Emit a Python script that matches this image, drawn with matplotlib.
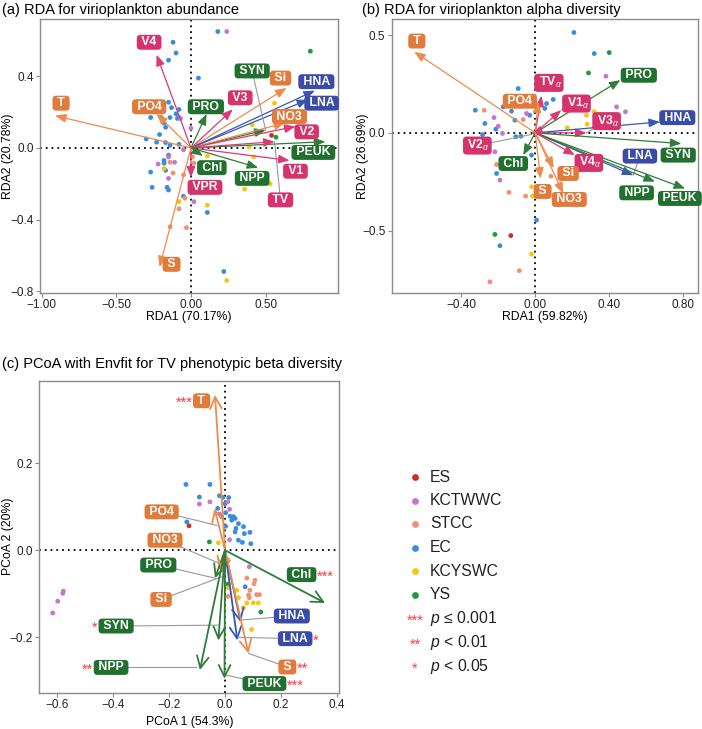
import matplotlib.pyplot as plt
from matplotlib.ticker import FuncFormatter

plt.rcParams['font.family'] = ['Liberation Sans', 'DejaVu Sans']
plt.rcParams['mathtext.fontset'] = 'custom'
plt.rcParams['mathtext.rm'] = 'Liberation Sans'
plt.rcParams['mathtext.it'] = 'Liberation Sans:italic'
plt.rcParams['mathtext.bf'] = 'Liberation Sans:bold'

# ---- regions (sample groups) ----
regions = ['ES', 'KCTWWC', 'STCC', 'EC', 'KCYSWC', 'YS']
region_colors = ['#C9302C', '#C477CC', '#F39074', '#3A8DDE', '#F2C811', '#1F9A3C']

# ---- (a) RDA for virioplankton abundance ----
a_vars = ['T', 'PO4', 'V4', 'PRO', 'V3', 'Si', 'HNA', 'LNA', 'SYN', 'NO3', 'V2', 'PEUK',
          'TV', 'V1', 'NPP', 'Chl', 'VPR', 'S']
a_type = ['env', 'env', 'vir', 'phy', 'vir', 'env', 'bac', 'bac', 'phy', 'env', 'vir', 'phy',
          'vir', 'vir', 'phy', 'phy', 'vir', 'env']
a_x = [-0.91, -0.23, -0.23, 0.105, 0.28, 0.64, 0.83, 0.785, 0.50, 0.63, 0.70, 0.90,
       0.56, 0.66, 0.45, 0.08, 0.0, -0.21]
a_y = [0.18, 0.19, 0.52, 0.19, 0.215, 0.335, 0.32, 0.27, 0.10, 0.14, 0.12, 0.035,
       0.035, -0.07, -0.11, -0.045, -0.165, -0.665]
a_lab_x = [-0.87, -0.28, -0.28, 0.10, 0.33, 0.60, 0.84, 0.875, 0.41, 0.66, 0.775, 0.82,
           0.60, 0.70, 0.41, 0.14, 0.094, -0.13]
a_lab_y = [0.25, 0.23, 0.59, 0.23, 0.28, 0.39, 0.37, 0.25, 0.43, 0.175, 0.09, -0.025,
           -0.29, -0.13, -0.17, -0.11, -0.22, -0.65]
a_leader = ['SYN', 'TV']

a_pt_x = [0.18, -0.12, -0.10, -0.15, 0.05, -0.15, -0.13, -0.08, -0.10, -0.27, -0.20, -0.14, -0.09,
          -0.18, -0.17, -0.21, -0.30, -0.23, -0.17, -0.14, -0.08, -0.15, -0.18, -0.18, -0.27,
          -0.17, -0.26, -0.16, -0.15, -0.05, 0.11, 0.22, -0.08,
          0.24, 0.0, -0.05, -0.15, -0.22, -0.11, -0.15, 0.02, -0.07,
          0.02, -0.05, -0.12, -0.04, -0.08, -0.14, -0.03, 0.01, -0.14,
          0.56, 0.41, 0.39, 0.42, 0.11, 0.53, 0.36, 0.11, -0.08, 0.24, -0.18,
          0.54, 0.80, 0.57]
a_pt_y = [0.65, 0.59, 0.53, 0.49, 0.39, 0.255, 0.225, 0.215, 0.19, 0.17, 0.17, 0.17, 0.165,
          0.14, 0.115, 0.075, 0.05, 0.032, 0.03, 0.015, 0.02, -0.04, -0.07, -0.085, -0.135,
          -0.125, -0.22, -0.22, -0.235, -0.27, -0.36, -0.69, 0.17,
          0.65, 0.11, -0.01, -0.05, -0.09, -0.08, -0.17, -0.30, 0.165,
          -0.085, -0.15, -0.14, -0.28, -0.34, -0.44, -0.445, -0.05, -0.08,
          0.25, 0.13, 0.005, -0.05, -0.045, -0.20, -0.23, -0.32, -0.30, -0.74, -0.115,
          0.07, 0.54, 0.06]
a_pt_reg = ['EC'] * 33 + ['KCTWWC'] * 9 + ['STCC'] * 9 + ['KCYSWC'] * 11 + ['ES'] + ['YS'] * 2

# ---- (b) RDA for virioplankton alpha diversity ----
b_vars = ['T', 'PRO', r'TV$_{\alpha}$', 'PO4', r'V1$_{\alpha}$', r'V3$_{\alpha}$', 'HNA', 'SYN',
          'LNA', 'NPP', 'PEUK', r'V4$_{\alpha}$', r'V2$_{\alpha}$', 'Chl', 'S', 'Si', 'NO3']
b_type = ['env', 'phy', 'vir', 'env', 'vir', 'vir', 'bac', 'phy', 'bac', 'phy', 'phy', 'vir',
          'vir', 'phy', 'env', 'env', 'env']
b_x = [-0.654, 0.46, 0.034, 0.015, 0.14, 0.277, 0.674, 0.79, 0.53, 0.647, 0.81, 0.214,
       -0.02, -0.065, 0.029, 0.10, 0.151]
b_y = [0.415, 0.27, 0.19, 0.16, 0.116, 0.0, 0.056, -0.055, -0.217, -0.25, -0.285, -0.114,
       -0.008, -0.114, -0.234, -0.18, -0.31]
b_lab_x = [-0.64, 0.56, 0.074, -0.083, 0.223, 0.386, 0.768, 0.773, 0.566, 0.548, 0.782, 0.29,
           -0.313, -0.119, 0.04, 0.178, 0.184]
b_lab_y = [0.47, 0.295, 0.256, 0.162, 0.15, 0.06, 0.078, -0.114, -0.119, -0.307, -0.336, -0.154,
           -0.065, -0.157, -0.30, -0.208, -0.341]
b_leader = [r'V1$_{\alpha}$', r'V3$_{\alpha}$', r'V2$_{\alpha}$', 'LNA']

b_pt_x = [0.209, 0.319, -0.092, -0.324, -0.272, -0.285, -0.213, -0.173, -0.128, -0.11, -0.077,
          -0.105, -0.209, -0.02, 0.007, -0.191, 0.097, 0.052, 0.061, -0.03,
          0.382, -0.223, -0.2, -0.177, -0.218, -0.191, 0.44, 0.488, -0.047,
          0.288, 0.4, -0.218,
          -0.132,
          -0.276, -0.065, -0.209, -0.142, -0.052, 0.085, -0.086, -0.245,
          0.277, 0.319, 0.281, 0.42, 0.173, -0.02, -0.014, -0.02]
b_pt_y = [0.514, 0.406, 0.227, 0.116, 0.048, -0.009, 0.019, 0.133, 0.111, 0.065, -0.017,
          -0.02, -0.208, -0.114, -0.447, -0.578, 0.171, 0.125, 0.15, 0.09,
          0.29, 0.078, 0.034, -0.003, -0.097, -0.242, 0.133, 0.108, 0.099,
          0.307, 0.411, -0.52,
          -0.526,
          0.116, 0.068, -0.162, -0.305, -0.324, -0.222, -0.706, -0.763,
          0.09, 0.108, 0.044, 0.247, 0.026, -0.276, -0.324, -0.621]
b_pt_reg = ['EC'] * 20 + ['KCTWWC'] * 9 + ['YS'] * 3 + ['ES'] + ['STCC'] * 8 + ['KCYSWC'] * 8

# ---- (c) PCoA with Envfit ----
c_vars = ['T', 'PO4', 'NO3', 'PRO', 'Si', 'Chl', 'HNA', 'LNA', 'S', 'PEUK', 'SYN', 'NPP']
c_type = ['env', 'env', 'env', 'phy', 'env', 'phy', 'bac', 'bac', 'env', 'phy', 'phy', 'phy']
c_x = [-0.036, -0.038, -0.02, -0.036, -0.008, 0.358, 0.056, 0.044, 0.084, -0.002, -0.024, -0.09]
c_y = [0.356, 0.096, -0.046, -0.064, -0.053, -0.121, -0.165, -0.207, -0.237, -0.295, -0.207, -0.275]
c_lab_x = [-0.084, -0.227, -0.215, -0.239, -0.229, 0.274, 0.239, 0.251, 0.223, 0.141, -0.39, -0.408]
c_lab_y = [0.343, 0.088, 0.023, -0.034, -0.113, -0.056, -0.151, -0.203, -0.268, -0.306, -0.174, -0.269]
c_lead_x = [None, -0.03, -0.018, -0.03, -0.012, None, 0.06, 0.05, 0.084, 0.006, -0.024, -0.104]
c_lead_y = [None, 0.057, -0.031, -0.065, -0.061, None, -0.16, -0.2, -0.237, -0.287, -0.172, -0.269]
c_sig = ['***', '', '', '', '', '***', '', '*', '**', '***', '*', '**']
c_sig_side = ['left', '', '', '', '', 'right', '', 'right', 'right', 'right', 'left', 'left']

c_pt_x = [-0.14, -0.054, -0.092, -0.137, -0.02, -0.008, 0.013, 0.0, -0.026, 0.002, 0.018, 0.03,
          0.024, 0.036, 0.048, 0.039, 0.036, 0.066, 0.069, 0.089, 0.048, 0.062, 0.092, 0.072,
          0.002, -0.012,
          -0.092, -0.054, -0.02, 0.016, 0.016, 0.087, -0.579, -0.581, -0.599, -0.617, 0.01,
          -0.129,
          -0.056, 0.128, 0.01,
          -0.024, 0.012, 0.042, 0.048, 0.078, 0.101, 0.119, 0.066, 0.095,
          0.078, 0.107, 0.104, 0.089, 0.084, 0.113, 0.123, 0.087, 0.01]
c_pt_y = [0.151, 0.151, 0.122, 0.065, 0.125, 0.121, 0.121, 0.107, 0.096, 0.086, 0.078, 0.077,
          0.069, 0.073, 0.061, 0.05, 0.042, 0.054, 0.038, 0.041, 0.023, 0.018, 0.015, -0.084,
          0.055, 0.077,
          0.106, 0.111, 0.083, 0.094, 0.024, -0.038, -0.094, -0.099, -0.117, -0.144, 0.111,
          0.056,
          0.019, -0.142, -0.078,
          0.017, -0.086, -0.092, -0.109, -0.121, -0.121, -0.121, -0.132, -0.182,
          -0.064, -0.069, -0.077, -0.092, -0.103, -0.102, -0.102, -0.109, -0.106]
c_pt_reg = ['EC'] * 26 + ['KCTWWC'] * 11 + ['ES'] + ['YS'] * 3 + ['KCYSWC'] * 9 + ['STCC'] * 9

sig_labels = [r'$p$ ≤ 0.001', r'$p$ < 0.01', r'$p$ < 0.05']
sig_marks = ['***', '**', '*']

fill = {'env': '#E07B3C', 'vir': '#D6336C', 'phy': '#22702F', 'bac': '#3A4CA8'}
line = {'env': '#EE8A4A', 'vir': '#DB3A72', 'phy': '#2E7D3A', 'bac': '#3A55B8'}
reg_col = dict(zip(regions, region_colors))
star_red = '#FF3B3B'


def minus(fmt):
    return FuncFormatter(lambda v, p: (fmt % v).replace('-', '\u2212'))


def style(ax, xt, yt, xf, yf, xlim, ylim):
    ax.set_xlim(xlim)
    ax.set_ylim(ylim)
    ax.set_xticks(xt)
    ax.set_yticks(yt)
    ax.xaxis.set_major_formatter(minus(xf))
    ax.yaxis.set_major_formatter(minus(yf))
    for s in ax.spines.values():
        s.set_color('#8c8c8c')
        s.set_linewidth(1)
    ax.tick_params(direction='out', length=3, width=0.8, color='#8c8c8c',
                   labelsize=8.5, labelcolor='#222222', pad=1.5)
    ax.axhline(0, color='black', ls=(0, (1, 2.2)), lw=1.3, zorder=1)
    ax.axvline(0, color='black', ls=(0, (1, 2.2)), lw=1.3, zorder=1)


def axis_labels(ax, xl, yl, xpos, ypos):
    ax.set_xlabel(xl, fontsize=8.8, va='center')
    ax.set_ylabel(yl, fontsize=8.8, va='center')
    ax.xaxis.set_label_coords(0.5, xpos)
    ax.yaxis.set_label_coords(ypos, 0.5)


def points(ax, xs, ys, regs):
    ax.scatter(xs, ys, s=12, c=[reg_col[r] for r in regs], linewidths=0, zorder=2)


def label(ax, x, y, s, t):
    return ax.text(x, y, ' ' + s + ' ', ha='center', va='center', color='white', fontweight='bold',
                   fontsize=8.8, zorder=6,
                   bbox=dict(boxstyle='round,pad=0.12,rounding_size=0.3', fc=fill[t], ec='none'))


fig = plt.figure(figsize=(7.02, 7.29), dpi=100)
ax_a = fig.add_axes([40 / 702, 1 - 293 / 729, 298 / 702, 274 / 729])
ax_b = fig.add_axes([391.7 / 702, 1 - 293 / 729, 306.3 / 702, 274 / 729])
ax_c = fig.add_axes([39.3 / 702, 1 - 692.7 / 729, 300 / 702, 312 / 729])

# (a)
style(ax_a, [-1, -0.5, 0, 0.5], [-0.8, -0.4, 0, 0.4], '%.2f', '%.1f', (-1.011, 0.985), (-0.81, 0.72))
points(ax_a, a_pt_x, a_pt_y, a_pt_reg)
for v, t, x, y, lx, ly in zip(a_vars, a_type, a_x, a_y, a_lab_x, a_lab_y):
    ax_a.annotate('', xy=(x, y), xytext=(0, 0), zorder=3,
                  arrowprops=dict(arrowstyle='-|>,head_length=0.55,head_width=0.22',
                                  color=line[t], lw=0.9, shrinkA=0, shrinkB=0, mutation_scale=12))
    if v in a_leader:
        ax_a.plot([lx, x], [ly, y], color='#999999', lw=0.8, zorder=3)
    label(ax_a, lx, ly, v, t)
axis_labels(ax_a, 'RDA1 (70.17%)', 'RDA2 (20.78%)', -0.088, -0.107)

# (b)
style(ax_b, [-0.4, 0, 0.4, 0.8], [-0.5, 0, 0.5], '%.2f', '%.1f', (-0.776, 0.88), (-0.82, 0.583))
points(ax_b, b_pt_x, b_pt_y, b_pt_reg)
for v, t, x, y, lx, ly in zip(b_vars, b_type, b_x, b_y, b_lab_x, b_lab_y):
    ax_b.annotate('', xy=(x, y), xytext=(0, 0), zorder=3,
                  arrowprops=dict(arrowstyle='-|>,head_length=0.55,head_width=0.22',
                                  color=line[t], lw=0.9, shrinkA=0, shrinkB=0, mutation_scale=12))
    if v in b_leader:
        ax_b.plot([lx, x], [ly, y], color='#999999', lw=0.8, zorder=3)
    label(ax_b, lx, ly, v, t)
axis_labels(ax_b, 'RDA1 (59.82%)', 'RDA2 (26.69%)', -0.088, -0.094)

# (c)
style(ax_c, [-0.6, -0.4, -0.2, 0, 0.2, 0.4], [-0.2, 0, 0.2], '%.1f', '%.1f', (-0.665, 0.409), (-0.327, 0.389))
points(ax_c, c_pt_x, c_pt_y, c_pt_reg)
for v, t, x, y, lx, ly, ldx, ldy, sg, side in zip(c_vars, c_type, c_x, c_y, c_lab_x, c_lab_y,
                                                   c_lead_x, c_lead_y, c_sig, c_sig_side):
    ax_c.annotate('', xy=(x, y), xytext=(0, 0), zorder=3,
                  arrowprops=dict(arrowstyle='->,head_length=0.6,head_width=0.3',
                                  color=line[t], lw=1.3, shrinkA=0, shrinkB=0, mutation_scale=14))
    if ldx is not None:
        ax_c.plot([lx, ldx], [ly, ldy], color='#999999', lw=0.8, zorder=3)
    txt = label(ax_c, lx, ly, v, t)
    if sg:
        if side == 'left':
            ax_c.annotate(sg, xy=(0, 0.5), xycoords=txt, xytext=(-1.5, -1.5), textcoords='offset points',
                          ha='right', va='center', color=star_red, fontsize=10.5, zorder=6)
        else:
            ax_c.annotate(sg, xy=(1, 0.5), xycoords=txt, xytext=(1.5, -1.5), textcoords='offset points',
                          ha='left', va='center', color=star_red, fontsize=10.5, zorder=6)
axis_labels(ax_c, 'PCoA 1 (54.3%)', 'PCoA 2 (20%)', -0.093, -0.104)

# titles
fig.text(2 / 702, 1 - 10 / 729, '(a) RDA for virioplankton abundance', fontsize=10.5, va='center')
fig.text(362 / 702, 1 - 10 / 729, '(b) RDA for virioplankton alpha diversity', fontsize=10.5, va='center')
fig.text(2 / 702, 1 - 364 / 729, '(c) PCoA with Envfit for TV phenotypic beta diversity', fontsize=10.5, va='center')

# legend (drawn in pixel coordinates on an overlay axes)
leg = fig.add_axes([0, 0, 1, 1], facecolor='none')
leg.set_xlim(0, 702)
leg.set_ylim(729, 0)
leg.axis('off')
for i, (r, c) in enumerate(zip(regions, region_colors)):
    yy = 477 + i * 23.5
    leg.scatter([415], [yy], s=24, c=c, linewidths=0)
    leg.text(430, yy, r, fontsize=11.3, va='center', color='#222222')
for i, (m, s) in enumerate(zip(sig_marks, sig_labels)):
    yy = 619 + i * 24
    leg.text(415, yy + 2, m, fontsize=10.5, va='center', ha='center', color=star_red)
    leg.text(430, yy, s, fontsize=11.3, va='center', color='#222222')

fig.savefig('out.png', dpi=100)
